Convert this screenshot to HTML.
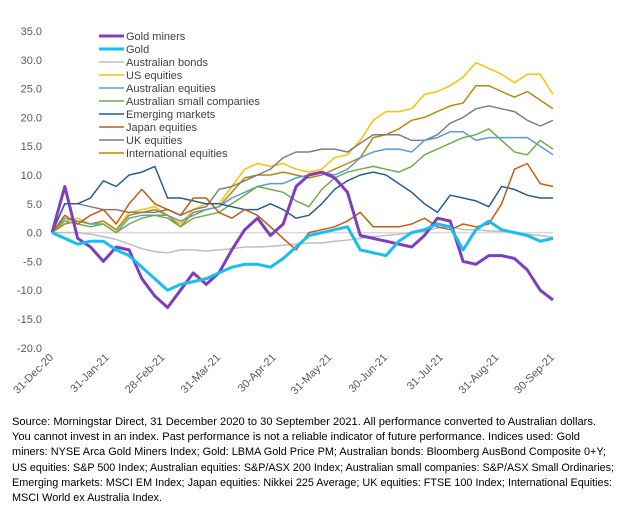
<!DOCTYPE html>
<html><head><meta charset="utf-8">
<style>
html,body{margin:0;padding:0;background:#fff;}
svg{display:block;font-family:"Liberation Sans",sans-serif;}
</style></head>
<body>
<svg id="chart" width="624" height="508" viewBox="0 0 624 508" xmlns="http://www.w3.org/2000/svg">
<g id="grid"></g>
<g id="yaxis"></g>
<g id="xaxis"></g>
<g id="series"></g>
<g id="legend"></g>
<g font-size="11" fill="#000">
<text x="12" y="425" textLength="584" lengthAdjust="spacingAndGlyphs">Source: Morningstar Direct, 31 December 2020 to 30 September 2021. All performance converted to Australian dollars.</text>
<text x="12" y="440" textLength="568" lengthAdjust="spacingAndGlyphs">You cannot invest in an index. Past performance is not a reliable indicator of future performance. Indices used: Gold</text>
<text x="12" y="455" textLength="594" lengthAdjust="spacingAndGlyphs">miners: NYSE Arca Gold Miners Index; Gold: LBMA Gold Price PM; Australian bonds: Bloomberg AusBond Composite 0+Y;</text>
<text x="12" y="471" textLength="602" lengthAdjust="spacingAndGlyphs">US equities: S&amp;P 500 Index; Australian equities: S&amp;P/ASX 200 Index; Australian small companies: S&amp;P/ASX Small Ordinaries;</text>
<text x="12" y="486" textLength="600" lengthAdjust="spacingAndGlyphs">Emerging markets: MSCI EM Index; Japan equities: Nikkei 225 Average; UK equities: FTSE 100 Index; International Equities:</text>
<text x="12" y="501" textLength="150" lengthAdjust="spacingAndGlyphs">MSCI World ex Australia Index.</text>
</g>
</svg>
<script>
const yTicks = [35,30,25,20,15,10,5,0,-5,-10,-15,-20];
const xLabels = ["31-Dec-20","31-Jan-21","28-Feb-21","31-Mar-21","30-Apr-21","31-May-21","30-Jun-21","31-Jul-21","31-Aug-21","30-Sep-21"];
const seriesNames = ["Gold miners","Gold","Australian bonds","US equities","Australian equities","Australian small companies","Emerging markets","Japan equities","UK equities","International equities"];
const goldMiners = [0,8,-1,-2.5,-5,-2.5,-3,-8,-11,-13,-10,-7,-9,-7,-3,0.5,2.5,-0.5,1.5,8,10,10.5,9.5,7,-0.5,-1,-1.5,-2,-2.5,-0.5,2.5,2,-5,-5.5,-4,-4,-4.5,-6.5,-10,-11.7];
const gold = [0,-1,-2,-1.5,-1.5,-3,-4,-6,-8,-10,-9,-8.5,-8,-7,-6,-5.5,-5.5,-6,-4.5,-2.5,-0.5,0,0.5,1,-3,-3.5,-4,-1.5,0,0.5,1.5,1,-3,0.5,2,0.5,0,-0.5,-1.5,-1];
const ausBonds = [0,0,0,-0.3,-0.7,-1.2,-2,-2.8,-3.3,-3.5,-3,-3,-3.2,-3,-2.8,-2.5,-2.5,-2.4,-2.2,-2,-1.8,-1.8,-1.5,-1.3,-1,-0.7,-0.5,-0.3,0,0.2,0.8,1,0.5,0.5,0.3,0.2,0,-0.3,-0.5,-0.8];
const usEq = [0,2,2.5,1.5,2,0.5,3.5,4,4.5,3,1.5,4,5,5,8,11,12,11.5,12,11,10.5,11,13,13.5,16,19.5,21,21,21.5,24,24.5,25.5,27,29.5,28.5,27.5,26,27.5,27.5,24];
const ausEq = [0,2.5,2,1.5,1.5,0,2.5,3,3,3,2,3,4,4.5,6,7,8,8.5,8.5,9.5,10,10.5,10,11,13,14,14.5,14.5,14,16,16.5,17.5,17.5,16,16.5,16.5,16.5,16.5,15,13.5];
const ausSmall = [0,2,1.5,1,1.5,0,1.5,2.5,3,2.5,1,2.5,3,3.5,5,6.5,8,7.5,7,5.5,4.5,7.5,9.5,10.5,11,11.5,11,10.5,11.5,13.5,14.5,15.5,16.5,17,18,16,14,13.5,16,14.5];
const emerging = [0,5,5,6,9,8,10,10.5,11.5,6,6,5.5,5,5,4.5,4,4,5,4,2.5,3,5,7.5,9,10,10.5,10,8.5,7,5,3.5,6.5,6,5.5,4.5,8,7.5,6.5,6,6];
const japan = [0,3,1.5,3,4,1.5,5,7.5,5,4,3,6,6,3.5,2.5,4,3,1,-1,-3,0,0.5,1,2,3.5,1,1,1,1.5,2.5,1,0.5,1.5,1,1.5,5,11,12,8.5,8];
const ukEq = [0,5,5,4.5,4,4,3.5,3.5,3.5,4,3,4,4.5,7.5,8,9,10,11,13,14,14,14.5,14.5,14,15.5,17,17,17,16,16,17,19,20,21.5,22,21.5,21,19.5,18.5,19.5];
const intlEq = [0,1.5,2,1.5,2,0.5,3,3.5,4,3,1,3.5,4,4.5,7,9.5,10,10,10.5,10,9.5,10,11,12,13,16.5,17,18,19.5,20,21,22,22.5,25.5,25.5,24.5,23.5,24.5,23,21.5];
const seriesData = [goldMiners,gold,ausBonds,usEq,ausEq,ausSmall,emerging,japan,ukEq,intlEq];
const colors = ["#7E3FBF","#19BEF0","#BFBFBF","#FFC000","#5B9BD5","#70AD47","#255E91","#C55A11","#7F7F7F","#B38A0B"];
const widths = [3,3,1.5,1.5,1.5,1.5,1.5,1.5,1.5,1.5];
const drawOrder = [2,3,9,8,4,5,6,7,0,1];

const NS="http://www.w3.org/2000/svg";
const X0=52, X1=553, Y35=31, Y0=232.6;
const py = v => Y0 - v*(Y0-Y35)/35;
const px = (i,n) => X0 + i*(X1-X0)/(n-1);
const mk = (t,a,p) => {const e=document.createElementNS(NS,t);for(const k in a)e.setAttribute(k,a[k]);p.appendChild(e);return e;};

const yaxis=document.getElementById('yaxis');
yTicks.forEach(v=>{
  const t=mk('text',{x:42,y:py(v)+4,'text-anchor':'end','font-size':11,fill:'#595959'},yaxis);
  
  
  t.textContent=v.toFixed(1);
});
const grid=document.getElementById('grid');
const zl=mk('line',{x1:X0,x2:X1,y1:py(0),y2:py(0),stroke:'#D9D9D9','stroke-width':1.5},grid);



const xaxis=document.getElementById('xaxis');
xLabels.forEach((l,i)=>{
  const x=px(i,xLabels.length);
  const t=mk('text',{x:x+2,y:358,'text-anchor':'end','font-size':11,fill:'#595959',transform:`rotate(-45 ${x+2} 358)`},xaxis);
  
  
  t.textContent=l;
});

const sg=document.getElementById('series');
drawOrder.forEach(k=>{
  const d=seriesData[k];
  const pts=d.map((v,i)=>px(i,d.length).toFixed(1)+','+py(v).toFixed(1)).join(' ');
  const p=mk('polyline',{points:pts,fill:'none',stroke:colors[k],'stroke-width':widths[k],'stroke-linejoin':'round'},sg);
  
  
});

const lg=document.getElementById('legend');
seriesNames.forEach((n,k)=>{
  const y=36+k*13;
  const g=mk('g',{},lg);
  
  
  mk('line',{x1:99,x2:124,y1:y,y2:y,stroke:colors[k],'stroke-width':widths[k]},g);
  const t=mk('text',{x:126,y:y+4,'font-size':11,fill:'#404040'},g);
  t.textContent=n;
});
</script>
</body></html>
